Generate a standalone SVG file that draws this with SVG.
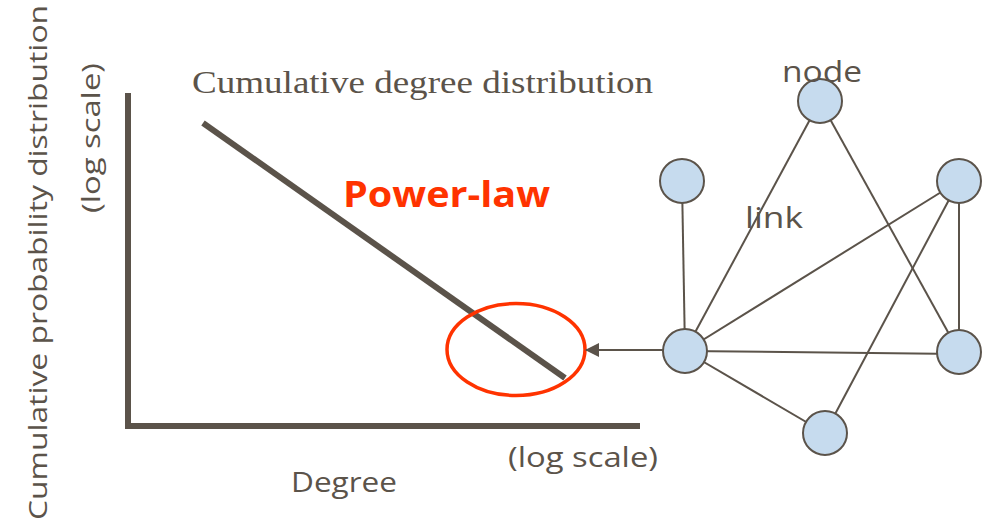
<svg xmlns="http://www.w3.org/2000/svg" width="990" height="525" viewBox="0 0 990 525">
<defs>
<style>
.axis{stroke:#5b534a;stroke-width:6;fill:none;stroke-linecap:butt}
.edge{stroke:#5b534a;stroke-width:2;fill:none}
.node{fill:#c6dbee;stroke:#5b534a;stroke-width:2}
.lbl{font-family:"Open Sans","DejaVu Sans",sans-serif;fill:#5b534a}
.serif{font-family:"Liberation Serif","Times New Roman",serif;fill:#5b534a}
</style>
<marker id="arr" markerWidth="14" markerHeight="14" refX="13" refY="7" orient="auto" markerUnits="userSpaceOnUse">
<path d="M0,0 L14,7 L0,14 Z" fill="#5b534a"/>
</marker>
</defs>
<rect width="990" height="525" fill="#ffffff"/>
<g id="chart">
<polyline class="axis" points="128,93 128,426 640,426"/>
<line class="axis" x1="203" y1="123" x2="565" y2="378"/>
<ellipse cx="516" cy="349.5" rx="69" ry="46" fill="none" stroke="#ff3300" stroke-width="3.5"/>
<text class="serif" x="192" y="93" font-size="32" textLength="461" lengthAdjust="spacingAndGlyphs">Cumulative degree distribution</text>
<text class="lbl" x="343" y="207" font-size="36" font-weight="bold" style="fill:#ff3300" textLength="207" lengthAdjust="spacingAndGlyphs">Power-law</text>
<text class="lbl" x="291" y="492" font-size="28" textLength="106" lengthAdjust="spacingAndGlyphs">Degree</text>
<text class="lbl" x="508" y="467" font-size="28" textLength="150" lengthAdjust="spacingAndGlyphs">(log scale)</text>
<text class="lbl" transform="translate(47,520) rotate(-90)" x="0" y="0" font-size="26" textLength="515" lengthAdjust="spacingAndGlyphs">Cumulative probability distribution</text>
<text class="lbl" transform="translate(100,213) rotate(-90)" x="0" y="0" font-size="26" textLength="150" lengthAdjust="spacingAndGlyphs">(log scale)</text>
</g>
<g id="connectors">
<line class="edge" x1="820" y1="101" x2="685" y2="351"/>
<line class="edge" x1="820" y1="101" x2="959" y2="352"/>
<line class="edge" x1="682" y1="181" x2="685" y2="351"/>
<line class="edge" x1="959" y1="181" x2="685" y2="351"/>
<line class="edge" x1="959" y1="181" x2="825" y2="433"/>
<line class="edge" x1="959" y1="181" x2="959" y2="352"/>
<line class="edge" x1="685" y1="351" x2="959" y2="354"/>
<line class="edge" x1="685" y1="351" x2="825" y2="433"/>
<line class="edge" x1="663" y1="350" x2="586" y2="350" marker-end="url(#arr)"/>
</g>
<g id="node-top"><circle class="node" cx="820" cy="101" r="22"/></g>
<g id="node-lefttop"><circle class="node" cx="682" cy="181" r="22"/></g>
<g id="node-righttop"><circle class="node" cx="959" cy="181" r="22"/></g>
<g id="node-hub"><circle class="node" cx="685" cy="351" r="22"/></g>
<g id="node-rightbottom"><circle class="node" cx="959" cy="352" r="22"/></g>
<g id="node-bottom"><circle class="node" cx="825" cy="433" r="22"/></g>
<g id="labels">
<text class="lbl" x="782" y="82" font-size="30" textLength="80" lengthAdjust="spacingAndGlyphs">node</text>
<text class="lbl" x="745" y="228" font-size="30" textLength="58" lengthAdjust="spacingAndGlyphs">link</text>
</g>
</svg>
